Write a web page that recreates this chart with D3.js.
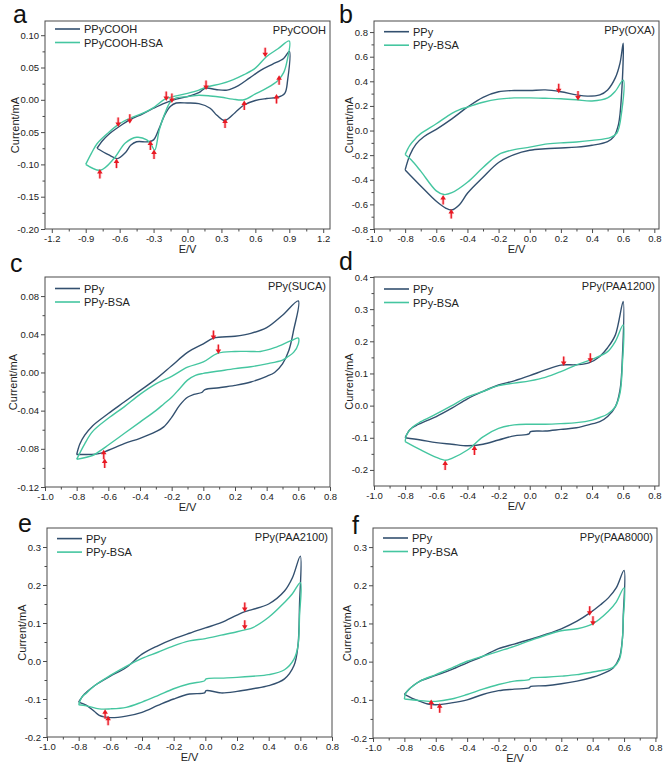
<!DOCTYPE html>
<html><head><meta charset="utf-8">
<script src="https://cdn.jsdelivr.net/npm/d3@7"></script>
<style>
body{margin:0;background:#fff;}
svg{display:block;font-family:Arial,"Liberation Sans",sans-serif;}
</style></head>
<body><svg id="c" width="668" height="770"></svg>
<script>
// ---------- DATA (E/V, Current/mA) ----------
const aPPy = [[-0.8,-0.075],[-0.75,-0.063],[-0.7,-0.054],[-0.6,-0.041],[-0.5,-0.030],[-0.4,-0.022],[-0.3,-0.013],[-0.2,-0.005],[-0.1,0.001],[0,0.005],[0.1,0.011],[0.16,0.018],[0.25,0.016],[0.35,0.015],[0.45,0.022],[0.55,0.034],[0.65,0.046],[0.75,0.055],[0.85,0.064],[0.9,0.075],
  [0.885,0.03],[0.86,0.01],[0.8,0.004],[0.7,0.002],[0.6,-0.001],[0.5,-0.008],[0.42,-0.02],[0.33,-0.032],[0.26,-0.024],[0.2,-0.013],[0.1,-0.006],[0,-0.005],[-0.1,-0.005],[-0.15,-0.01],[-0.2,-0.023],[-0.25,-0.044],[-0.3,-0.062],[-0.35,-0.065],[-0.45,-0.065],[-0.5,-0.07],[-0.55,-0.082],[-0.62,-0.091],[-0.7,-0.085],[-0.8,-0.075]];
const aBSA = [[-0.9,-0.1],[-0.85,-0.083],[-0.8,-0.068],[-0.7,-0.051],[-0.6,-0.037],[-0.5,-0.028],[-0.4,-0.021],[-0.3,-0.012],[-0.2,0.001],[-0.1,0.006],[0,0.01],[0.1,0.015],[0.17,0.02],[0.3,0.025],[0.4,0.031],[0.5,0.039],[0.6,0.049],[0.7,0.067],[0.8,0.079],[0.9,0.091],
  [0.88,0.06],[0.85,0.042],[0.8,0.03],[0.7,0.018],[0.6,0.009],[0.5,0.0],[0.4,0.001],[0.3,0.004],[0.2,0.006],[0.1,0.007],[0,0.005],[-0.1,0.003],[-0.15,-0.003],[-0.2,-0.021],[-0.25,-0.047],[-0.29,-0.078],[-0.32,-0.07],[-0.36,-0.062],[-0.45,-0.058],[-0.55,-0.067],[-0.65,-0.091],[-0.77,-0.109],[-0.9,-0.1]];
const aArrows = [[-0.775,-0.114,"up"],[-0.628,-0.098,"up"],[-0.613,-0.035,"down"],[-0.51,-0.030,"down"],[-0.328,-0.070,"up"],[-0.296,-0.084,"up"],[-0.188,0.005,"down"],[-0.138,0.002,"down"],[0.164,0.022,"down"],[0.332,-0.036,"up"],[0.502,-0.008,"up"],[0.687,0.073,"down"],[0.81,0.031,"up"],[0.787,0.002,"up"]];

const bPPy = [[-0.8,-0.32],[-0.77,-0.2],[-0.73,-0.11],[-0.68,-0.05],[-0.6,0.01],[-0.5,0.095],[-0.4,0.19],[-0.3,0.27],[-0.2,0.315],[-0.1,0.325],[0,0.325],[0.1,0.33],[0.2,0.315],[0.3,0.29],[0.37,0.28],[0.45,0.29],[0.5,0.33],[0.55,0.43],[0.58,0.55],[0.6,0.71],
  [0.59,0.3],[0.57,0.05],[0.54,-0.05],[0.5,-0.09],[0.4,-0.12],[0.3,-0.135],[0.2,-0.142],[0.1,-0.148],[0,-0.16],[-0.1,-0.195],[-0.2,-0.26],[-0.3,-0.38],[-0.4,-0.51],[-0.45,-0.6],[-0.5,-0.645],[-0.54,-0.63],[-0.6,-0.575],[-0.7,-0.45],[-0.8,-0.32]];
const bBSA = [[-0.8,-0.195],[-0.77,-0.12],[-0.73,-0.06],[-0.7,-0.025],[-0.6,0.055],[-0.5,0.14],[-0.45,0.17],[-0.4,0.19],[-0.3,0.23],[-0.2,0.255],[-0.1,0.265],[0,0.265],[0.1,0.262],[0.2,0.258],[0.3,0.25],[0.4,0.24],[0.5,0.265],[0.55,0.32],[0.6,0.41],
  [0.59,0.15],[0.56,-0.02],[0.52,-0.055],[0.4,-0.08],[0.3,-0.093],[0.2,-0.1],[0.1,-0.11],[0,-0.135],[-0.1,-0.155],[-0.2,-0.195],[-0.3,-0.3],[-0.4,-0.42],[-0.5,-0.505],[-0.55,-0.52],[-0.6,-0.49],[-0.7,-0.33],[-0.76,-0.24],[-0.8,-0.195]];
const bArrows = [[0.186,0.34,"down"],[0.31,0.28,"down"],[-0.556,-0.56,"up"],[-0.504,-0.675,"up"]];

const cPPy = [[-0.8,-0.086],[-0.78,-0.075],[-0.75,-0.066],[-0.7,-0.056],[-0.6,-0.043],[-0.5,-0.031],[-0.4,-0.019],[-0.3,-0.007],[-0.2,0.007],[-0.1,0.021],[0,0.03],[0.065,0.036],[0.2,0.038],[0.3,0.041],[0.4,0.047],[0.5,0.06],[0.6,0.075],
  [0.57,0.044],[0.54,0.023],[0.5,0.009],[0.45,0.0],[0.4,-0.004],[0.3,-0.01],[0.2,-0.0135],[0.1,-0.016],[0.01,-0.018],[-0.01,-0.021],[-0.06,-0.023],[-0.1,-0.026],[-0.15,-0.0345],[-0.2,-0.047],[-0.25,-0.057],[-0.3,-0.062],[-0.4,-0.069],[-0.5,-0.0745],[-0.6,-0.0815],[-0.66,-0.085],[-0.8,-0.086]];
const cBSA = [[-0.8,-0.091],[-0.75,-0.075],[-0.7,-0.062],[-0.6,-0.048],[-0.5,-0.036],[-0.4,-0.023],[-0.3,-0.012],[-0.2,-0.004],[-0.1,0.0055],[0,0.011],[0.09,0.02],[0.2,0.022],[0.3,0.022],[0.36,0.022],[0.45,0.026],[0.55,0.033],[0.6,0.036],
  [0.6,0.03],[0.57,0.021],[0.53,0.016],[0.5,0.013],[0.4,0.009],[0.3,0.006],[0.2,0.004],[0.1,0.0015],[0,-0.001],[-0.05,-0.003],[-0.1,-0.008],[-0.15,-0.017],[-0.2,-0.026],[-0.25,-0.033],[-0.3,-0.04],[-0.4,-0.052],[-0.5,-0.064],[-0.6,-0.076],[-0.66,-0.083],[-0.7,-0.087],[-0.8,-0.091]];
const cArrows = [[0.064,0.0387,"down"],[0.095,0.024,"down"],[-0.629,-0.0857,"up"],[-0.623,-0.0948,"up"]];

const dPPy = [[-0.8,-0.1],[-0.77,-0.075],[-0.73,-0.062],[-0.7,-0.055],[-0.6,-0.034],[-0.5,-0.008],[-0.4,0.021],[-0.3,0.044],[-0.2,0.064],[-0.1,0.077],[0,0.093],[0.1,0.111],[0.2,0.126],[0.3,0.127],[0.38,0.133],[0.45,0.153],[0.5,0.18],[0.55,0.22],[0.6,0.324],
  [0.595,0.15],[0.58,0.05],[0.55,-0.003],[0.5,-0.034],[0.45,-0.05],[0.4,-0.057],[0.3,-0.069],[0.2,-0.074],[0.1,-0.079],[0.005,-0.081],[-0.005,-0.088],[-0.1,-0.094],[-0.2,-0.107],[-0.3,-0.12],[-0.4,-0.125],[-0.5,-0.12],[-0.6,-0.115],[-0.7,-0.107],[-0.8,-0.1]];
const dBSA = [[-0.8,-0.112],[-0.79,-0.09],[-0.75,-0.066],[-0.7,-0.05],[-0.6,-0.026],[-0.5,0.0],[-0.4,0.027],[-0.3,0.044],[-0.2,0.062],[-0.1,0.07],[0,0.077],[0.1,0.088],[0.2,0.106],[0.3,0.127],[0.4,0.144],[0.5,0.168],[0.55,0.2],[0.6,0.251],
  [0.595,0.13],[0.58,0.04],[0.55,-0.003],[0.5,-0.026],[0.45,-0.037],[0.4,-0.045],[0.3,-0.053],[0.2,-0.056],[0.1,-0.058],[0,-0.058],[-0.1,-0.06],[-0.2,-0.071],[-0.3,-0.097],[-0.4,-0.138],[-0.5,-0.164],[-0.54,-0.17],[-0.6,-0.161],[-0.7,-0.138],[-0.8,-0.112]];
const dArrows = [[0.218,0.137,"down"],[0.389,0.147,"down"],[-0.355,-0.138,"up"],[-0.543,-0.185,"up"]];

const ePPy = [[-0.8,-0.108],[-0.77,-0.09],[-0.75,-0.082],[-0.7,-0.065],[-0.6,-0.04],[-0.5,-0.017],[-0.4,0.018],[-0.3,0.04],[-0.2,0.058],[-0.1,0.073],[0,0.087],[0.1,0.101],[0.2,0.121],[0.25,0.13],[0.3,0.136],[0.4,0.15],[0.5,0.184],[0.55,0.219],[0.6,0.276],
  [0.595,0.15],[0.585,0.04],[0.56,-0.012],[0.5,-0.047],[0.4,-0.065],[0.3,-0.073],[0.2,-0.08],[0.1,-0.084],[0.005,-0.078],[-0.005,-0.084],[-0.1,-0.087],[-0.2,-0.1],[-0.3,-0.117],[-0.4,-0.135],[-0.5,-0.145],[-0.6,-0.149],[-0.67,-0.143],[-0.7,-0.133],[-0.75,-0.117],[-0.8,-0.108]];
const eBSA = [[-0.8,-0.115],[-0.78,-0.095],[-0.75,-0.084],[-0.7,-0.065],[-0.6,-0.038],[-0.5,-0.014],[-0.4,0.007],[-0.3,0.023],[-0.2,0.04],[-0.1,0.053],[0,0.059],[0.1,0.068],[0.2,0.077],[0.25,0.082],[0.3,0.088],[0.4,0.115],[0.5,0.154],[0.55,0.177],[0.6,0.206],
  [0.595,0.12],[0.585,0.04],[0.56,0.005],[0.5,-0.023],[0.4,-0.036],[0.3,-0.04],[0.2,-0.043],[0.1,-0.045],[0.005,-0.047],[-0.005,-0.052],[-0.1,-0.06],[-0.2,-0.073],[-0.3,-0.091],[-0.4,-0.108],[-0.5,-0.122],[-0.6,-0.126],[-0.67,-0.126],[-0.75,-0.118],[-0.8,-0.115]];
const eArrows = [[0.249,0.141,"down"],[0.249,0.094,"down"],[-0.633,-0.139,"up"],[-0.614,-0.156,"up"]];

const fPPy = [[-0.8,-0.086],[-0.77,-0.072],[-0.75,-0.065],[-0.7,-0.051],[-0.6,-0.036],[-0.5,-0.021],[-0.4,-0.003],[-0.3,0.014],[-0.2,0.034],[-0.1,0.046],[0,0.058],[0.1,0.071],[0.2,0.086],[0.3,0.106],[0.38,0.127],[0.45,0.149],[0.5,0.167],[0.55,0.193],[0.6,0.239],
  [0.595,0.12],[0.59,0.062],[0.57,0.01],[0.53,-0.017],[0.5,-0.025],[0.45,-0.034],[0.4,-0.041],[0.3,-0.051],[0.2,-0.058],[0.1,-0.063],[0.005,-0.065],[-0.005,-0.069],[-0.1,-0.072],[-0.2,-0.076],[-0.3,-0.086],[-0.4,-0.1],[-0.5,-0.108],[-0.6,-0.113],[-0.65,-0.111],[-0.7,-0.104],[-0.75,-0.096],[-0.8,-0.086]];
const fBSA = [[-0.8,-0.098],[-0.79,-0.082],[-0.75,-0.065],[-0.7,-0.051],[-0.6,-0.034],[-0.5,-0.017],[-0.4,0.001],[-0.3,0.014],[-0.2,0.027],[-0.1,0.04],[0,0.055],[0.1,0.069],[0.2,0.081],[0.3,0.086],[0.4,0.099],[0.5,0.132],[0.55,0.156],[0.6,0.193],
  [0.595,0.11],[0.59,0.062],[0.57,0.005],[0.53,-0.015],[0.45,-0.024],[0.4,-0.027],[0.3,-0.034],[0.2,-0.038],[0.1,-0.041],[0.005,-0.043],[-0.005,-0.047],[-0.1,-0.051],[-0.2,-0.06],[-0.3,-0.072],[-0.4,-0.086],[-0.5,-0.098],[-0.6,-0.104],[-0.7,-0.102],[-0.8,-0.098]];
const fArrows = [[0.381,0.132,"down"],[0.402,0.106,"down"],[-0.629,-0.111,"up"],[-0.575,-0.121,"up"]];

// tick values
const xTicksA = [-1.2,-0.9,-0.6,-0.3,0,0.3,0.6,0.9,1.2];
const xTicksB = [-1.0,-0.8,-0.6,-0.4,-0.2,0,0.2,0.4,0.6,0.8];
const yTicksA = [-0.20,-0.15,-0.10,-0.05,0,0.05,0.10];
const yTicksB = [-0.8,-0.6,-0.4,-0.2,0,0.2,0.4,0.6,0.8];
const yTicksC = [-0.12,-0.08,-0.04,0,0.04,0.08];
const yTicksD = [-0.2,-0.1,0,0.1,0.2,0.3,0.4];
const yTicksE = [-0.2,-0.1,0,0.1,0.2,0.3];

const legendA = ["PPyCOOH","PPyCOOH-BSA"];
const legendP = ["PPy","PPy-BSA"];
const titles = ["PPyCOOH","PPy(OXA)","PPy(SUCA)","PPy(PAA1200)","PPy(PAA2100)","PPy(PAA8000)"];
const letters = ["a","b","c","d","e","f"];

// ---------- LAYOUT ----------
const panels = [
 {L:45, T:21, R:330, B:229, xd:[-1.26,1.26], yd:[-0.2,0.122], xt:xTicksA, yt:yTicksA, yf:".2f", s1:aPPy, s2:aBSA, arr:aArrows, leg:legendA, ly:8,  lx:[13,23], yl:15},
 {L:374,T:21, R:659, B:229, xd:[-1.0,0.83], yd:[-0.8,0.89], xt:xTicksB, yt:yTicksB, yf:".1f", s1:bPPy, s2:bBSA, arr:bArrows, leg:legendP, ly:10.7,lx:[339,23], yl:349},
 {L:45, T:277,R:330, B:487, xd:[-1.0,0.8], yd:[-0.12,0.10], xt:xTicksB, yt:yTicksC, yf:".2f", s1:cPPy, s2:cBSA, arr:cArrows, leg:legendP, ly:11.5,lx:[10,272], yl:13},
 {L:374,T:277,R:659, B:486, xd:[-1.0,0.83], yd:[-0.25,0.4], xt:xTicksB, yt:yTicksD, yf:".1f", s1:dPPy, s2:dBSA, arr:dArrows, leg:legendP, ly:12, lx:[339,270], yl:349},
 {L:47, T:528,R:332, B:737, xd:[-1.0,0.8], yd:[-0.2,0.35], xt:xTicksB, yt:yTicksE, yf:".1f", s1:ePPy, s2:eBSA, arr:eArrows, leg:legendP, ly:10.6,lx:[18,532], yl:22},
 {L:373,T:528,R:657, B:738, xd:[-1.0,0.81], yd:[-0.2,0.35], xt:xTicksB, yt:yTicksE, yf:".1f", s1:fPPy, s2:fBSA, arr:fArrows, leg:legendP, ly:10,  lx:[352,534], yl:347}
];

const DARK = "#33506f", TEAL = "#45c6a0", AX = "#4a4a4a";
const svg = d3.select("#c");
const loc = d3.formatLocale({decimal:".", thousands:",", grouping:[3], currency:["",""], minus:"-"});

panels.forEach((p,i)=>{
  const x = d3.scaleLinear().domain(p.xd).range([p.L,p.R]);
  const y = d3.scaleLinear().domain(p.yd).range([p.B,p.T]);
  const g = svg.append("g");
  const fmtY = loc.format(p.yf), fmtX = loc.format(".1f");

  const xstep = p.xt[1]-p.xt[0], ystep = p.yt[1]-p.yt[0];
  const xMinor = p.xt.slice(0,-1).map(v=>v+xstep/2).filter(v=>v>p.xd[0]&&v<p.xd[1]);
  const yMinor = p.yt.map(v=>v+ystep/2).filter(v=>v>p.yd[0]&&v<p.yd[1]);

  g.append("g").attr("transform",`translate(0,${p.B})`)
    .call(d3.axisBottom(x).tickValues(p.xt).tickFormat(fmtX).tickSize(4).tickSizeOuter(0).tickPadding(2));
  g.append("g").attr("transform",`translate(0,${p.B})`)
    .call(d3.axisBottom(x).tickValues(xMinor).tickFormat("").tickSize(2.5).tickSizeOuter(0));
  g.append("g").attr("transform",`translate(${p.L},0)`)
    .call(d3.axisLeft(y).tickValues(p.yt).tickFormat(fmtY).tickSize(4).tickSizeOuter(0).tickPadding(2));
  g.append("g").attr("transform",`translate(${p.L},0)`)
    .call(d3.axisLeft(y).tickValues(yMinor).tickFormat("").tickSize(2.5).tickSizeOuter(0));
  g.selectAll(".domain").remove();
  g.selectAll(".tick line").attr("stroke",AX);
  g.selectAll(".tick text").attr("fill","#222").style("font-size","9.5px").style("font-family","Arial, 'Liberation Sans', sans-serif");
  g.append("rect").attr("x",p.L).attr("y",p.T).attr("width",p.R-p.L).attr("height",p.B-p.T)
    .attr("fill","none").attr("stroke",AX).attr("stroke-width",1);

  const line = d3.line().x(d=>x(d[0])).y(d=>y(d[1])).curve(d3.curveCatmullRom.alpha(0.5));
  g.append("path").datum(p.s1).attr("d",line).attr("fill","none").attr("stroke",DARK).attr("stroke-width",1.4).attr("stroke-linejoin","round");
  g.append("path").datum(p.s2).attr("d",line).attr("fill","none").attr("stroke",TEAL).attr("stroke-width",1.4).attr("stroke-linejoin","round");

  p.arr.forEach(a=>{
    const cx = x(a[0]), cy = y(a[1]);
    const s = a[2]==="down" ? 1 : -1;
    const ag = g.append("g").attr("transform",`translate(${cx},${cy}) scale(1,${s})`);
    ag.append("path").attr("d","M0,-5 L0,1").attr("stroke","#ff8c94").attr("stroke-width",3).attr("opacity",0.5);
    ag.append("path").attr("d","M0,-5 L0,1").attr("stroke","#e81a24").attr("stroke-width",1.3);
    ag.append("path").attr("d","M-2.8,0 L2.8,0 L0,4.5 Z").attr("fill","#e81a24");
  });

  const lg = g.append("g");
  p.leg.forEach((t,k)=>{
    const yy = p.T + p.ly + k*13.5;
    lg.append("line").attr("x1",p.L+10).attr("x2",p.L+35).attr("y1",yy).attr("y2",yy)
      .attr("stroke",k===0?DARK:TEAL).attr("stroke-width",1.6);
    lg.append("text").attr("x",p.L+39).attr("y",yy+4).text(t).style("font-size","11px").attr("fill","#222");
  });
  g.append("text").attr("x",p.R-4).attr("y",p.T+13).attr("text-anchor","end").text(titles[i])
    .style("font-size","11px").attr("fill","#222");
  g.append("text").attr("x",(p.L+p.R)/2).attr("y",p.B+24).attr("text-anchor","middle").text("E/V")
    .style("font-size","11px").attr("fill","#222");
  g.append("text").attr("transform",`translate(${p.yl},${(p.T+p.B)/2}) rotate(-90)`).attr("text-anchor","middle")
    .attr("dy","0.35em").text("Current/mA").style("font-size","11px").attr("fill","#222");
  g.append("text").attr("x",p.lx[0]).attr("y",p.lx[1]).text(letters[i]).style("font-size","25px").attr("fill","#111");
});
</script></body></html>
